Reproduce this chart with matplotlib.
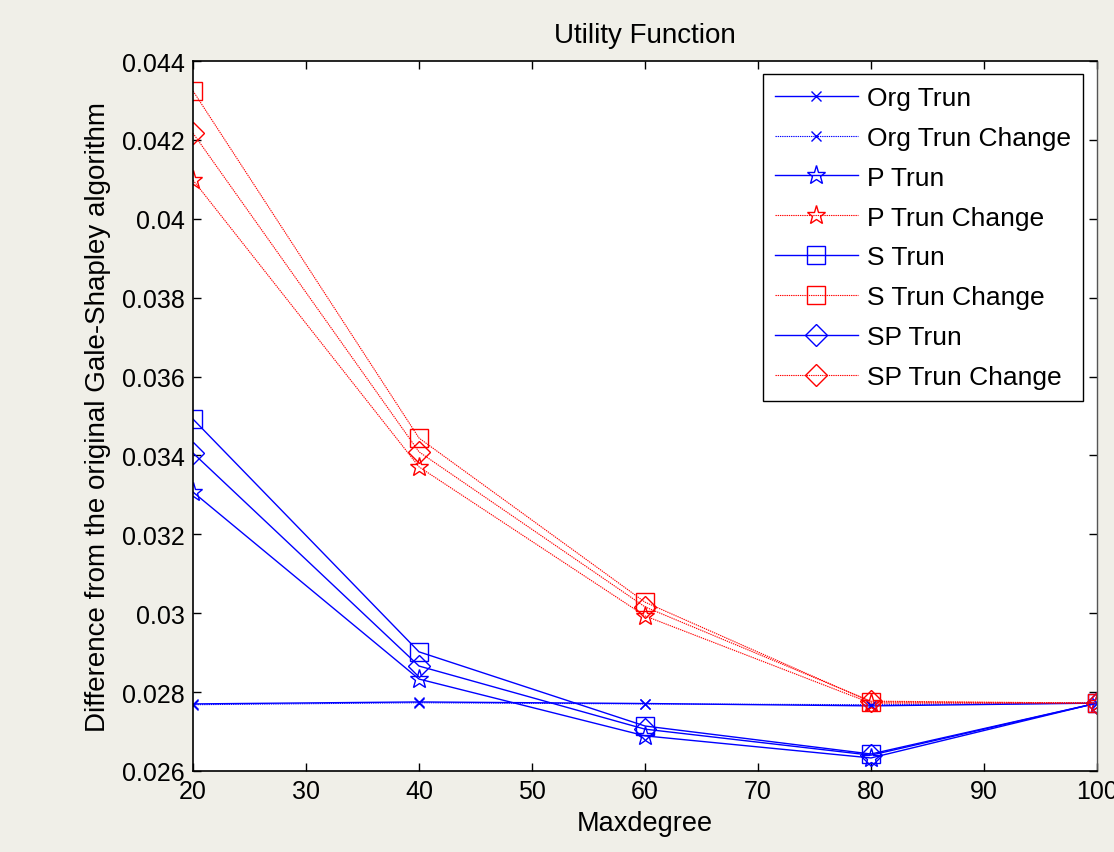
import matplotlib
matplotlib.use("Agg")
import matplotlib.pyplot as plt

plt.rcParams['font.family'] = ['Liberation Sans', 'DejaVu Sans']

maxdegree = [20, 40, 60, 80, 100]

org_trun = [0.02770, 0.02775, 0.02771, 0.02765, 0.02772]
org_trun_change = [0.02768, 0.02773, 0.02770, 0.02768, 0.02772]
p_trun = [0.03307, 0.02833, 0.02689, 0.02633, 0.02772]
p_trun_change = [0.04098, 0.03371, 0.02993, 0.02772, 0.02772]
s_trun = [0.03492, 0.02902, 0.02714, 0.02643, 0.02772]
s_trun_change = [0.04324, 0.03444, 0.03028, 0.02775, 0.02772]
sp_trun = [0.03406, 0.02866, 0.02706, 0.02640, 0.02772]
sp_trun_change = [0.04217, 0.03409, 0.03016, 0.02777, 0.02772]

x_ticks = [20, 30, 40, 50, 60, 70, 80, 90, 100]
y_ticks = [0.026, 0.028, 0.03, 0.032, 0.034, 0.036, 0.038, 0.04, 0.042, 0.044]
y_tick_labels = ['0.026', '0.028', '0.03', '0.032', '0.034', '0.036', '0.038', '0.04', '0.042', '0.044']

bg = '#f0efe8'
fig = plt.figure(figsize=(11.14, 8.53), dpi=100, facecolor=bg)
ax = fig.add_axes([0.1733, 0.0950, 0.8114, 0.8323])
ax.set_facecolor('white')

blue = '#0000ff'
red = '#ff0000'
dotted = (0, (1.2, 0.8))

series = [
    ('Org Trun', org_trun, blue, '-', 'x', 7, 1.0),
    ('Org Trun Change', org_trun_change, blue, dotted, 'x', 7, 0.8),
    ('P Trun', p_trun, blue, '-', '*', 14, 1.0),
    ('P Trun Change', p_trun_change, red, dotted, '*', 14, 0.8),
    ('S Trun', s_trun, blue, '-', 's', 13, 1.0),
    ('S Trun Change', s_trun_change, red, dotted, 's', 13, 0.8),
    ('SP Trun', sp_trun, blue, '-', 'D', 11, 1.0),
    ('SP Trun Change', sp_trun_change, red, dotted, 'D', 11, 0.8),
]

for label, vals, color, ls, marker, ms, lw in series:
    ax.plot(maxdegree, vals, color=color, linestyle=ls, linewidth=lw,
            marker=marker, markersize=ms, markerfacecolor='none',
            markeredgecolor=color, markeredgewidth=1.0, label=label)

ax.set_xlim(20, 100)
ax.set_ylim(0.026, 0.044)
ax.set_xticks(x_ticks)
ax.set_xticklabels([str(v) for v in x_ticks])
ax.set_yticks(y_ticks)
ax.set_yticklabels(y_tick_labels)
ax.tick_params(direction='in', top=True, right=True, length=6, width=1,
               labelsize=18, pad=6, colors='black')

for side in ['left', 'bottom', 'top']:
    ax.spines[side].set_color('black')
    ax.spines[side].set_linewidth(1.2)
ax.spines['right'].set_color('#555555')
ax.spines['right'].set_linewidth(1.0)

ax.set_title('Utility Function', fontsize=20, pad=14)
ax.set_xlabel('Maxdegree', fontsize=19.5, labelpad=5)
ax.set_ylabel('Difference from the original Gale-Shapley algorithm', fontsize=20, labelpad=8)

leg = ax.legend(loc='upper right', bbox_to_anchor=(0.9845, 0.9815), fontsize=19,
                frameon=True, fancybox=False, edgecolor='black', framealpha=1,
                handlelength=3.15, handletextpad=0.35, labelspacing=0.6,
                borderpad=0.45, borderaxespad=0)
leg.get_frame().set_linewidth(1.0)

fig.savefig('out.png', dpi=100, facecolor=bg)
